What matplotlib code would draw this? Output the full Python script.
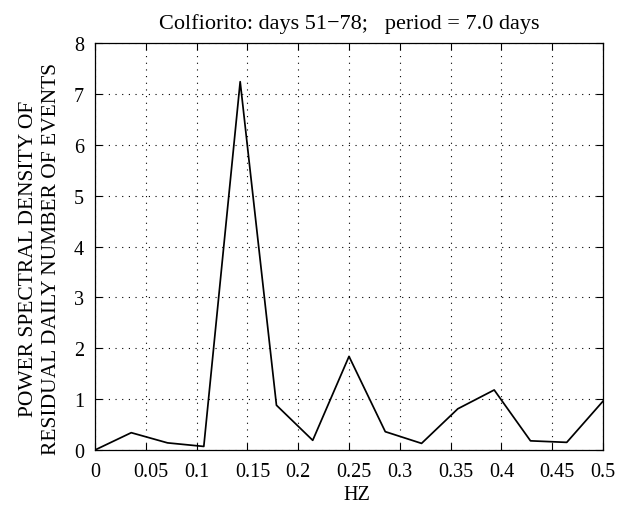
import matplotlib
matplotlib.use("Agg")
import matplotlib.pyplot as plt
from matplotlib.transforms import ScaledTranslation

# Periodogram of the residual daily event counts (28-day window -> bins at k/28 Hz)
freq_hz = [0.0, 0.0357, 0.0714, 0.1071, 0.1429, 0.1786, 0.2143, 0.25,
           0.2857, 0.3214, 0.3571, 0.3929, 0.4286, 0.4643, 0.5]
psd = [0.0, 0.34, 0.14, 0.07, 7.24, 0.88, 0.19, 1.84,
       0.36, 0.13, 0.81, 1.18, 0.18, 0.15, 0.96]

x_ticks = [0, 0.05, 0.1, 0.15, 0.2, 0.25, 0.3, 0.35, 0.4, 0.45, 0.5]
x_tick_labels = ["0", "0.05", "0.1", "0.15", "0.2", "0.25", "0.3", "0.35", "0.4", "0.45", "0.5"]
y_ticks = [0, 1, 2, 3, 4, 5, 6, 7, 8]

plt.rcParams["font.family"] = ["Liberation Serif", "DejaVu Serif"]

fig = plt.figure(figsize=(6.22, 5.10), dpi=100)
ax = fig.add_axes([0.1527, 0.1157, 0.8168, 0.798])

ax.plot(freq_hz, psd, color="black", linewidth=1.25)

ax.set_xlim(0, 0.5)
ax.set_ylim(0, 8)
ax.set_xticks(x_ticks)
ax.set_xticklabels(x_tick_labels)
ax.set_yticks(y_ticks)
ax.tick_params(direction="in", top=True, right=True, length=5, width=0.8,
               labelsize=14.5)
ax.tick_params(axis="y", pad=8)
ax.tick_params(axis="x", pad=9)
ax.grid(True, color="black", linestyle=(0, (1, 5)), linewidth=0.8)
for sp in ax.spines.values():
    sp.set_linewidth(0.9)

# the wider labels sit a little right of their ticks
for lbl in ax.get_xticklabels():
    if len(lbl.get_text()) == 4:
        lbl.set_transform(lbl.get_transform() + ScaledTranslation(5 / 100, 0, fig.dpi_scale_trans))

ax.set_title("Colfiorito: days 51\u221278;   period = 7.0 days", fontsize=16, pad=11)
ax.set_xlabel("HZ", fontsize=14.5)
ax.xaxis.set_label_coords(0.515, -0.085)
ax.xaxis.label.set_va("top")
ax.set_ylabel("POWER SPECTRAL DENSITY OF\nRESIDUAL DAILY NUMBER OF EVENTS",
              fontsize=15.5, linespacing=1.3)
ax.yaxis.set_label_coords(-0.067, 0.472)

fig.savefig("out.png", dpi=100)
